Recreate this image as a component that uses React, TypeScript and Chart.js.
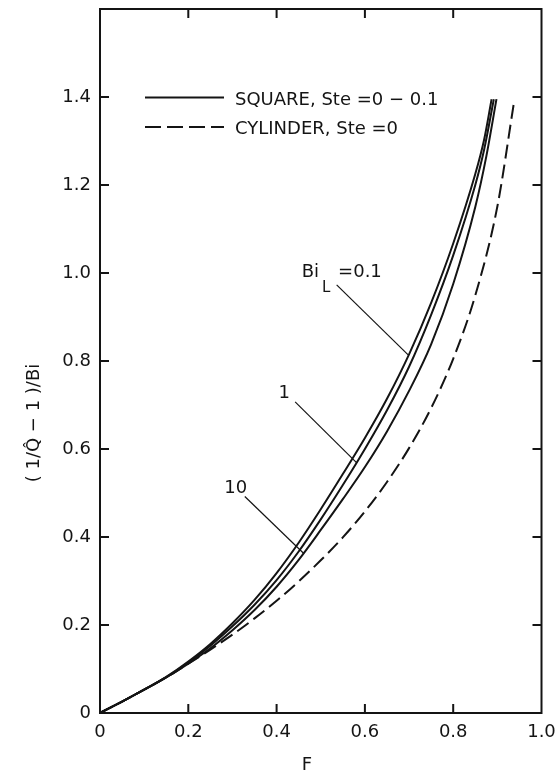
import React, { useEffect, useRef } from "react";
import { Chart, registerables } from "chart.js";

Chart.register(...registerables);

// ---- data ----
const X_SQ_BI01 = [0, 0.05, 0.1, 0.15, 0.2, 0.25, 0.3, 0.35, 0.4, 0.45, 0.5, 0.55, 0.6, 0.65, 0.7, 0.75, 0.8, 0.85, 0.87, 0.887];
const Y_SQ_BI01 = [0, 0.026, 0.053, 0.082, 0.117, 0.157, 0.204, 0.257, 0.318, 0.387, 0.463, 0.543, 0.625, 0.714, 0.815, 0.932, 1.067, 1.225, 1.303, 1.395];

const X_SQ_BI1 = [0, 0.05, 0.1, 0.15, 0.2, 0.25, 0.3, 0.35, 0.4, 0.45, 0.5, 0.55, 0.6, 0.65, 0.7, 0.75, 0.8, 0.85, 0.87, 0.892];
const Y_SQ_BI1 = [0, 0.026, 0.053, 0.081, 0.115, 0.153, 0.197, 0.246, 0.302, 0.367, 0.44, 0.518, 0.6, 0.688, 0.787, 0.905, 1.04, 1.2, 1.28, 1.395];

const X_SQ_BI10 = [0, 0.05, 0.1, 0.15, 0.2, 0.25, 0.3, 0.35, 0.4, 0.45, 0.5, 0.55, 0.6, 0.65, 0.7, 0.75, 0.8, 0.85, 0.875, 0.898];
const Y_SQ_BI10 = [0, 0.026, 0.053, 0.081, 0.112, 0.147, 0.188, 0.234, 0.287, 0.348, 0.416, 0.486, 0.559, 0.64, 0.732, 0.838, 0.975, 1.15, 1.265, 1.395];

const X_CYL = [0, 0.05, 0.1, 0.15, 0.2, 0.25, 0.3, 0.35, 0.4, 0.45, 0.5, 0.55, 0.6, 0.65, 0.7, 0.75, 0.8, 0.85, 0.9, 0.938];
const Y_CYL = [0, 0.026, 0.053, 0.081, 0.112, 0.144, 0.178, 0.215, 0.255, 0.299, 0.347, 0.399, 0.458, 0.525, 0.602, 0.693, 0.805, 0.949, 1.151, 1.39];

// leader lines [x0, x1], [y0, y1]
const LEADER_BI01_X = [0.536, 0.698];
const LEADER_BI01_Y = [0.973, 0.814];
const LEADER_BI1_X = [0.442, 0.581];
const LEADER_BI1_Y = [0.707, 0.569];
const LEADER_BI10_X = [0.328, 0.461];
const LEADER_BI10_Y = [0.492, 0.363];

// annotation label anchors (data coords)
const LABEL_BI01 = { x: 0.457, y: 0.9916 };
const LABEL_BI1 = { x: 0.4175, y: 0.716, text: "1" };
const LABEL_BI10 = { x: 0.3076, y: 0.4993, text: "10" };

const X_TICKS = [0, 0.2, 0.4, 0.6, 0.8, 1.0];
const Y_TICKS = [0, 0.2, 0.4, 0.6, 0.8, 1.0, 1.2, 1.4];
const X_MIN = 0, X_MAX = 1.0, Y_MIN = 0, Y_MAX = 1.6;

const LEGEND_SQUARE = "SQUARE, Ste =0 \u2212 0.1";
const LEGEND_CYL = "CYLINDER, Ste =0";
const Y_TITLE = "( 1/Q\u0302 \u2212 1 )/Bi";
const X_TITLE = "F";

const INK = "#141414";
const FONT = '"DejaVu Sans", sans-serif';

const pts = (xs: number[], ys: number[]) => xs.map((x, i) => ({ x, y: ys[i] }));
const fmt = (v: number) => (Math.abs(v) < 1e-9 ? "0" : v.toFixed(1));

const decorPlugin = {
  id: "decor",
  afterDraw(chart: any) {
    const { ctx, chartArea: a, scales } = chart;
    const xs = scales.x, ys = scales.y;
    const T = 9;
    ctx.save();
    ctx.strokeStyle = INK;
    ctx.fillStyle = INK;
    ctx.lineWidth = 2;
    ctx.setLineDash([]);
    ctx.strokeRect(a.left, a.top, a.right - a.left, a.bottom - a.top);
    ctx.beginPath();
    Y_TICKS.slice(1).forEach((v) => {
      const py = ys.getPixelForValue(v);
      ctx.moveTo(a.left, py); ctx.lineTo(a.left + T, py);
      ctx.moveTo(a.right, py); ctx.lineTo(a.right - T, py);
    });
    X_TICKS.slice(1, -1).forEach((v) => {
      const px = xs.getPixelForValue(v);
      ctx.moveTo(px, a.bottom); ctx.lineTo(px, a.bottom - T);
      ctx.moveTo(px, a.top); ctx.lineTo(px, a.top + T);
    });
    ctx.stroke();

    // legend
    ctx.font = `18px ${FONT}`;
    ctx.textAlign = "left";
    ctx.textBaseline = "alphabetic";
    ctx.beginPath();
    ctx.moveTo(145, 97.5); ctx.lineTo(224, 97.5);
    ctx.stroke();
    ctx.fillText(LEGEND_SQUARE, 235, 105);
    ctx.setLineDash([16, 6]);
    ctx.beginPath();
    ctx.moveTo(145, 127); ctx.lineTo(224, 127);
    ctx.stroke();
    ctx.setLineDash([]);
    ctx.fillText(LEGEND_CYL, 235, 134);

    // annotation labels
    const bx = xs.getPixelForValue(LABEL_BI01.x);
    const by = ys.getPixelForValue(LABEL_BI01.y);
    ctx.font = `18px ${FONT}`;
    ctx.fillText("Bi", bx, by);
    const bw = ctx.measureText("Bi").width;
    ctx.font = `15px ${FONT}`;
    ctx.fillText("L", bx + bw + 3, by + 15);
    ctx.font = `18px ${FONT}`;
    ctx.fillText("=0.1", bx + bw + 19, by);

    ctx.textAlign = "center";
    ctx.fillText(LABEL_BI1.text, xs.getPixelForValue(LABEL_BI1.x), ys.getPixelForValue(LABEL_BI1.y));
    ctx.fillText(LABEL_BI10.text, xs.getPixelForValue(LABEL_BI10.x), ys.getPixelForValue(LABEL_BI10.y));

    // axis titles
    ctx.fillText(X_TITLE, 307, 770);
    ctx.save();
    ctx.translate(39, 423);
    ctx.rotate(-Math.PI / 2);
    ctx.textAlign = "center";
    ctx.fillText(Y_TITLE, 0, 0);
    ctx.restore();
    ctx.restore();
  },
};

export default function App() {
  const ref = useRef<HTMLCanvasElement | null>(null);
  useEffect(() => {
    document.body.style.margin = "0";
    document.body.style.overflow = "hidden";
    const canvas = ref.current;
    if (!canvas) return;
    const solid = (data: any) => ({
      data, borderColor: INK, borderWidth: 2, pointRadius: 0, fill: false,
      cubicInterpolationMode: "monotone" as const,
    });
    const leader = (xs: number[], ys: number[]) => ({
      data: pts(xs, ys), borderColor: INK, borderWidth: 1.2, pointRadius: 0, fill: false, tension: 0,
    });
    const chart = new Chart(canvas, {
      type: "line",
      data: {
        datasets: [
          solid(pts(X_SQ_BI01, Y_SQ_BI01)),
          solid(pts(X_SQ_BI1, Y_SQ_BI1)),
          solid(pts(X_SQ_BI10, Y_SQ_BI10)),
          { ...solid(pts(X_CYL, Y_CYL)), borderDash: [14, 6] },
          leader(LEADER_BI01_X, LEADER_BI01_Y),
          leader(LEADER_BI1_X, LEADER_BI1_Y),
          leader(LEADER_BI10_X, LEADER_BI10_Y),
        ],
      },
      options: {
        animation: false,
        responsive: false,
        devicePixelRatio: 1,
        layout: { padding: { left: 0, top: 9, right: 13.5, bottom: 0 }, autoPadding: false } as any,
        plugins: { legend: { display: false }, tooltip: { enabled: false }, title: { display: false } },
        scales: {
          x: {
            type: "linear", min: X_MIN, max: X_MAX,
            grid: { display: false, drawTicks: false },
            border: { display: false },
            ticks: { stepSize: 0.2, padding: 9, color: INK, font: { family: FONT, size: 18 }, callback: (v: any) => fmt(Number(v)), maxRotation: 0 },
            afterFit: (s: any) => { s.height = 59; s.paddingLeft = 0; s.paddingRight = 0; s.paddingTop = 0; s.paddingBottom = 0; },
          },
          y: {
            type: "linear", min: Y_MIN, max: Y_MAX,
            grid: { display: false, drawTicks: false },
            border: { display: false },
            ticks: { stepSize: 0.2, padding: 9, color: INK, font: { family: FONT, size: 18 }, callback: (v: any) => fmt(Number(v)) },
            afterBuildTicks: (s: any) => { s.ticks = s.ticks.filter((t: any) => t.value <= 1.41); },
            afterFit: (s: any) => { s.width = 100; s.paddingLeft = 0; s.paddingRight = 0; s.paddingTop = 0; s.paddingBottom = 0; },
          },
        },
      },
      plugins: [decorPlugin],
    });
    return () => chart.destroy();
  }, []);
  return (
    <div style={{ width: 555, height: 772, background: "#fff" }}>
      <canvas ref={ref} width={555} height={772} style={{ display: "block", width: 555, height: 772 }} />
    </div>
  );
}
